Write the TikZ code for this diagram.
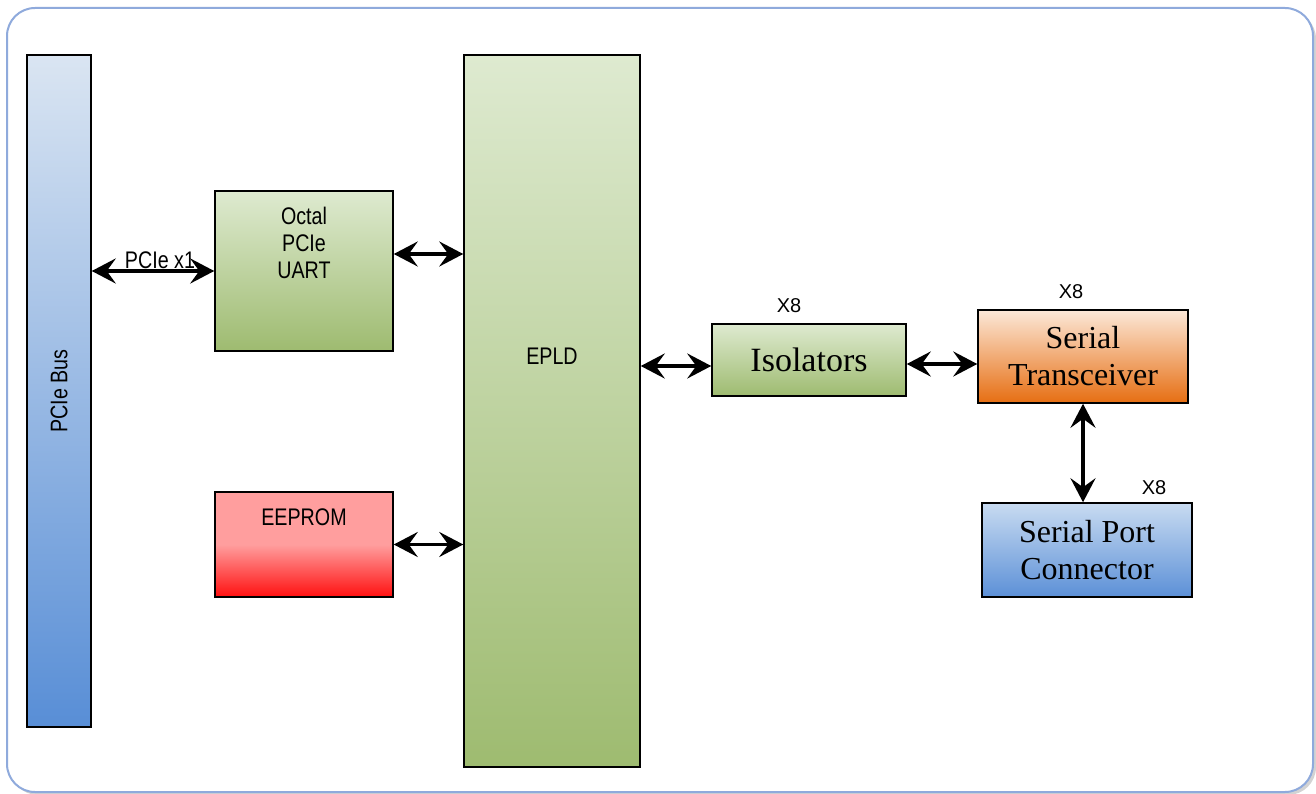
\documentclass[tikz,border=0pt]{standalone}
\usepackage{fontspec}
\setmainfont{Liberation Serif}
\setsansfont{Liberation Sans}
\newfontfamily\narrowsf[FakeStretch=0.82]{Liberation Sans}
\usetikzlibrary{arrows.meta,shadows}
\definecolor{framecol}{RGB}{143,170,220}
\definecolor{bustop}{RGB}{218,229,242}
\definecolor{busbot}{RGB}{88,142,214}
\definecolor{greentop}{RGB}{222,234,208}
\definecolor{greenbot}{RGB}{158,187,112}
\definecolor{eeppink}{RGB}{255,158,158}
\definecolor{eepred}{RGB}{255,16,16}
\definecolor{xcvrtop}{RGB}{252,232,216}
\definecolor{xcvrbot}{RGB}{230,110,18}
\definecolor{conntop}{RGB}{200,219,241}
\definecolor{connbot}{RGB}{92,144,215}
\begin{document}
\begin{tikzpicture}[x=1pt,y=-1pt,
  blockbox/.style={draw=black, line width=1.5pt, inner sep=0pt},
  greenbox/.style={blockbox, top color=greentop, bottom color=greenbot},
  blockfont/.style={font=\narrowsf\fontsize{24}{27}\selectfont},
  bigfont/.style={font=\fontsize{32}{37}\selectfont},
  countfont/.style={font=\sffamily\fontsize{20}{22}\selectfont},
  biarrow/.style={{Stealth[length=24pt,width=25pt,inset=9pt]}-{Stealth[length=24pt,width=25pt,inset=9pt]}, line width=3.5pt}]
\useasboundingbox (0,0) rectangle (1316,794);
% Draw the outer frame
\draw[framecol, line width=2pt, rounded corners=28pt, fill=white,
  drop shadow={shadow xshift=3pt, shadow yshift=-3pt, opacity=0.35}] (7,8) rectangle (1313,792);
% Draw the bus and the blocks
\node[blockbox, top color=bustop, bottom color=busbot, minimum width=64pt, minimum height=672pt,
  label={[rotate=90, blockfont]center:PCIe Bus}] (bus) at (59,391) {};
\node[greenbox, minimum width=178pt, minimum height=160pt,
  label={[blockfont, align=center, yshift=28pt]center:Octal\\PCIe\\UART}] (uart) at (304,271) {};
\node[blockbox, top color=eeppink, bottom color=eepred, middle color=eeppink, minimum width=178pt, minimum height=105pt,
  label={[blockfont, yshift=27pt]center:EEPROM}] (eeprom) at (304,544.5) {};
\node[greenbox, minimum width=176pt, minimum height=712pt,
  label={[blockfont, yshift=55pt]center:EPLD}] (epld) at (552,411) {};
\node[greenbox, bigfont, font=\fontsize{34}{37}\selectfont, minimum width=194pt, minimum height=72pt] (iso) at (809,360) {Isolators};
\node[blockbox, bigfont, align=center, top color=xcvrtop, bottom color=xcvrbot, minimum width=210pt, minimum height=93pt] (xcvr) at (1083,356.5) {Serial\\Transceiver};
\node[blockbox, bigfont, align=center, top color=conntop, bottom color=connbot, minimum width=210pt, minimum height=94pt] (conn) at (1087,550) {Serial Port\\Connector};
% Draw the X8 counts
\node[countfont] (isocount) at (789,306) {X8};
\node[countfont] (xcvrcount) at (1071,292) {X8};
\node[countfont] (conncount) at (1154,488) {X8};
% Draw the links
\draw[biarrow] (bus.east |- uart.west) -- (uart.west)
  node[midway, above, blockfont, inner sep=1pt, xshift=7pt] (pcielbl) {PCIe x1};
\draw[biarrow] ([yshift=17pt]uart.east) -- ([yshift=17pt]epld.west |- uart.east);
\draw[biarrow] (eeprom.east) -- (epld.west |- eeprom.east);
\draw[biarrow] ([yshift=-6pt]epld.east |- iso.west) -- ([yshift=-6pt]iso.west);
\draw[biarrow] ([yshift=-4pt]iso.east) -- ([yshift=-4pt]xcvr.west |- iso.east);
\draw[biarrow] (xcvr.south) -- (conn.north -| xcvr.south);
\end{tikzpicture}
\end{document}
